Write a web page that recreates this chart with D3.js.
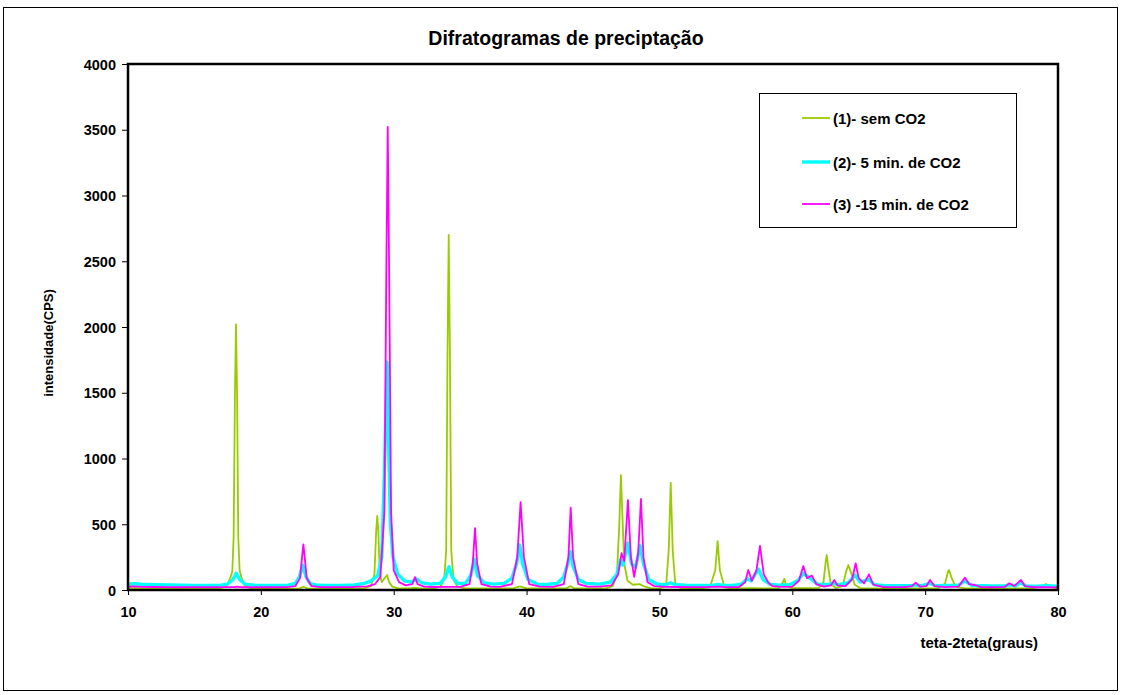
<!DOCTYPE html>
<html>
<head>
<meta charset="utf-8">
<script src="https://cdn.jsdelivr.net/npm/d3@7"></script>
<style>
  html, body { margin: 0; padding: 0; background: #fff; }
  text { font-family: "Liberation Sans", Arial, sans-serif; font-weight: bold; fill: #000; }
</style>
</head>
<body>
<svg id="chart" width="1121" height="695"></svg>
<script>
// ---- data ----
const chartTitle = "Difratogramas de preciptação";
const xTicks = [10, 20, 30, 40, 50, 60, 70, 80];
const yTicks = [0, 500, 1000, 1500, 2000, 2500, 3000, 3500, 4000];
const seriesNames = ["(1)- sem CO2", "(2)- 5 min. de CO2", "(3) -15 min. de CO2"];

const semCO2 = [[10,14],[11,12],[12,13],[13,11],[14,12],[15,11],[16,12],[17,14],
  [17.4,30],[17.7,90],[17.85,140],[17.95,400],[18.05,1500],[18.13,2020],[18.21,1500],[18.3,400],[18.4,150],[18.55,90],[18.8,30],[19.2,15],
  [20,12],[21,12],[22,11],[22.9,12],[23.2,25],[23.5,12],[24,11],[25,12],[26,11],[27,12],[27.8,15],[28.3,30],
  [28.55,120],[28.68,450],[28.76,563],[28.84,450],[28.95,120],[29.1,60],[29.35,95],[29.5,114],[29.65,60],[29.9,25],[30.3,14],
  [31,12],[31.6,16],[32,12],[33,12],[33.5,25],[33.8,80],[33.95,300],[34.05,1800],[34.14,2700],[34.23,1800],[34.33,300],[34.5,80],[34.8,25],[35.3,14],
  [36,13],[37,12],[38,12],[39,12],[39.5,28],[40,12],[41,12],[42,12],[43,12],[43.3,30],[43.6,12],[44,12],[45,12],[46,14],
  [46.5,30],[46.8,120],[46.98,500],[47.1,874],[47.2,600],[47.35,200],[47.6,70],[48,40],[48.5,45],[48.8,30],[49.3,15],
  [50,13],[50.5,30],[50.7,300],[50.85,816],[51.0,300],[51.2,40],[51.6,15],[52,12],[53,12],
  [53.8,20],[54.2,150],[54.38,372],[54.55,150],[54.9,20],[55.5,12],[56,12],[57,14],[58,12],[59,14],[59.3,60],[59.4,84],[59.55,30],
  [60,14],[61,15],[62,16],[62.35,60],[62.5,200],[62.59,266],[62.7,180],[62.9,40],[63.3,16],[63.8,30],[64.05,140],[64.22,190],[64.4,140],[64.7,40],[65.1,15],
  [66,13],[67,12],[68,12],[69,12],[70,12],[71,14],[71.5,50],[71.72,140],[71.8,152],[72.0,90],[72.3,25],[73,13],
  [74,12],[75,12],[76,12],[77,12],[78,13],[78.8,25],[79.1,46],[79.4,25],[80,13]];

const min5CO2 = [[10,45],[10.5,48],[11,44],[11.5,42],[12,40],[13,38],[14,36],[15,35],[16,34],[17,36],
  [17.5,45],[17.9,80],[18.15,127],[18.4,80],[18.8,45],[19.5,36],[20,34],[21,34],[22,35],
  [22.6,50],[22.9,100],[23.15,190],[23.4,100],[23.7,50],[24.2,36],[25,34],[26,35],[27,38],
  [27.8,50],[28.3,70],[28.8,110],[29.1,250],[29.3,900],[29.5,1734],[29.62,1100],[29.75,500],[29.95,250],[30.3,120],[30.8,70],
  [31.3,60],[31.75,83],[32.1,55],[32.8,45],[33.5,50],[33.9,100],[34.16,177],[34.4,100],[34.8,50],
  [35.4,50],[35.8,110],[36.05,236],[36.3,110],[36.8,55],[37.5,45],[38.3,50],[38.9,90],[39.25,200],[39.48,342],[39.7,200],[40.1,80],
  [40.8,45],[41.5,42],[42.3,50],[42.8,100],[43.1,200],[43.3,291],[43.5,180],[43.9,80],[44.5,50],[45.5,45],
  [46.3,60],[46.8,120],[47.05,228],[47.25,190],[47.62,357],[47.9,200],[48.2,170],[48.55,337],[48.8,200],[49.2,80],[49.8,45],
  [50.5,40],[50.85,55],[51.2,40],[52,36],[53,34],[54,34],[54.4,42],[54.8,34],[55.5,34],
  [56.2,45],[56.6,85],[56.9,70],[57.45,160],[57.8,80],[58.3,45],[59,36],[59.8,40],
  [60.4,70],[60.85,127],[61.4,85],[61.9,45],[62.6,40],[63.1,50],[63.5,40],[64.2,55],[64.72,114],[65.1,60],[65.75,80],[66.2,40],
  [67,33],[68,32],[69,32],[69.3,40],[69.7,32],[70.35,50],[70.8,32],[71.8,35],[72.5,35],[73.0,70],[73.5,35],
  [74.2,32],[75,30],[76,30],[76.35,40],[76.8,32],[77.2,55],[77.6,30],[78.5,28],[79.1,32],[80,28]];

const min15CO2 = [[10,25],[10.5,28],[11,24],[12,23],[13,22],[14,21],[15,22],[16,21],[17,22],[18,22],[18.2,26],[18.4,22],
  [19,21],[20,21],[21,21],[22,22],[22.6,30],[22.95,90],[23.1,250],[23.2,347],[23.3,250],[23.45,90],[23.8,30],[24.5,22],
  [25,21],[26,22],[27,23],[28,28],[28.6,45],[29.0,100],[29.3,600],[29.45,2500],[29.55,3521],[29.65,2500],[29.8,600],[30.0,150],[30.4,60],[30.9,35],
  [31.4,45],[31.6,98],[31.8,45],[32.3,25],[33,23],[34,24],[35,24],
  [35.7,45],[35.95,200],[36.12,471],[36.28,200],[36.6,45],[37.3,25],[38,24],
  [38.9,45],[39.3,250],[39.55,669],[39.8,250],[40.2,45],[41,25],[42,24],
  [42.8,45],[43.15,250],[43.32,626],[43.5,250],[43.9,45],[44.6,25],[45.5,25],
  [46.4,35],[46.9,120],[47.15,280],[47.35,220],[47.63,684],[47.85,250],[48.1,100],[48.4,280],[48.61,692],[48.8,250],[49.1,60],[49.6,30],
  [50.5,24],[51.5,23],[52.5,22],[53.5,22],[54.4,26],[55,22],[56,23],
  [56.45,60],[56.69,152],[56.95,70],[57.3,150],[57.57,335],[57.85,120],[58.2,56],[58.5,30],[59.2,24],
  [60,26],[60.5,70],[60.83,182],[61.1,90],[61.48,109],[61.8,45],[62.4,25],[62.9,35],[63.16,76],[63.4,35],
  [64,30],[64.5,80],[64.77,203],[65.0,90],[65.4,50],[65.77,119],[66.1,40],[66.8,23],[67.5,22],[68.5,22],
  [69.0,30],[69.29,56],[69.6,25],[70.1,30],[70.37,76],[70.7,30],[71.5,22],[72.5,25],[73.0,94],[73.3,45],[73.75,38],[74.2,22],
  [75,21],[76,24],[76.33,51],[76.7,30],[77.21,76],[77.5,30],[78.2,21],[79,22],[80,20]];

// ---- layout / style ----
const svg = d3.select("#chart");
const W = 1121, H = 695;
const plot = { left: 128, right: 1058, top: 64, bottom: 590 };
const colors = ["#99CC00", "#00FFFF", "#FF00FF"];
const widths = [1.8, 3.4, 1.8];

svg.append("rect").attr("x", 3.5).attr("y", 7.5).attr("width", W - 7).attr("height", H - 12)
  .attr("fill", "#fff").attr("stroke", "#000").attr("stroke-width", 1);

const x = d3.scaleLinear().domain([10, 80]).range([plot.left, plot.right]);
const y = d3.scaleLinear().domain([0, 4000]).range([plot.bottom, plot.top]);

svg.append("defs").append("clipPath").attr("id", "clip")
  .append("rect").attr("x", plot.left).attr("y", plot.top)
  .attr("width", plot.right - plot.left).attr("height", plot.bottom - plot.top);

const line = d3.line().x(d => x(d[0])).y(d => y(d[1]));
const g = svg.append("g").attr("clip-path", "url(#clip)");
[semCO2, min5CO2, min15CO2].forEach((s, i) => {
  g.append("path").datum(s).attr("d", line)
    .attr("fill", "none").attr("stroke", colors[i]).attr("stroke-width", widths[i])
    .attr("stroke-linejoin", "round");
});

// plot border
svg.append("rect").attr("x", plot.left).attr("y", plot.top)
  .attr("width", plot.right - plot.left).attr("height", plot.bottom - plot.top)
  .attr("fill", "none").attr("stroke", "#000").attr("stroke-width", 2.5);

// axes
const yAxis = d3.axisLeft(y).tickValues(yTicks).tickSize(6).tickPadding(6).tickFormat(d3.format("d"));
const ya = svg.append("g").attr("transform", `translate(${plot.left},0)`).call(yAxis);
const xAxis = d3.axisBottom(x).tickValues(xTicks).tickSize(5).tickPadding(12).tickFormat(d3.format("d"));
const xa = svg.append("g").attr("transform", `translate(0,${plot.bottom})`).call(xAxis);
[ya, xa].forEach(a => {
  a.select(".domain").remove();
  a.selectAll(".tick line").attr("stroke", "#000").attr("stroke-width", 1);
  a.selectAll(".tick text").attr("font-size", 14.5).attr("font-family", "Liberation Sans, Arial, sans-serif")
    .attr("font-weight", "bold").attr("fill", "#000");
});
ya.selectAll(".tick text").attr("dy", "0.36em");

// titles
svg.append("text").attr("x", 566).attr("y", 45).attr("text-anchor", "middle")
  .attr("font-size", 19.5).text(chartTitle);
svg.append("text").attr("transform", "translate(53,343) rotate(-90)").attr("text-anchor", "middle")
  .attr("font-size", 13).text("intensidade(CPS)");
svg.append("text").attr("x", 1038).attr("y", 648).attr("text-anchor", "end")
  .attr("font-size", 15).text("teta-2teta(graus)");

// legend
const lg = svg.append("g");
lg.append("rect").attr("x", 759.5).attr("y", 93.5).attr("width", 257).attr("height", 134)
  .attr("fill", "#fff").attr("stroke", "#000").attr("stroke-width", 1);
const rows = [118, 162, 204];
seriesNames.forEach((n, i) => {
  lg.append("line").attr("x1", 802).attr("x2", 830).attr("y1", rows[i]).attr("y2", rows[i])
    .attr("stroke", colors[i]).attr("stroke-width", widths[i]);
  lg.append("text").attr("x", 833).attr("y", rows[i] + 5.5).attr("font-size", 15).text(n);
});
</script>
</body>
</html>
